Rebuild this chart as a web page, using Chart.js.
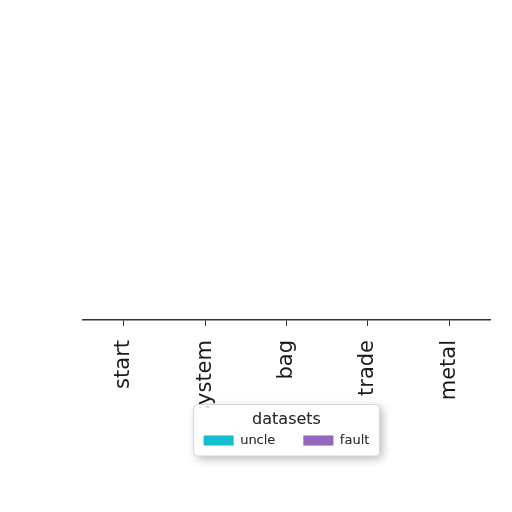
<!DOCTYPE html>
<html lang="en">
  <head>
    <meta charset="utf-8" />
    <title>datasets</title>
    <style>
      html, body { margin: 0; padding: 0; background: #fff; }
      #wrap { width: 512px; height: 512px; }
    </style>
  </head>
  <body>
    <div id="wrap">
      <canvas id="canvas"></canvas>
    </div>

    <script src="https://cdn.jsdelivr.net/npm/chart.js"></script>

    <script>
      const categories = ["start", "system", "bag", "trade", "metal"];
      const uncleValues = [0, 0, 0, 0, 0];
      const faultValues = [0, 0, 0, 0, 0];

      const ctx = document.getElementById("canvas");

      // rounded frame behind the legend, drawn over the tick labels like matplotlib does
      const legendFrame = {
        id: "legendFrame",
        beforeDatasetsDraw(chart) {
          const lg = chart.legend;
          if (!lg || !lg.legendHitBoxes.length) return;
          const boxes = lg.legendHitBoxes;
          const left = Math.min(...boxes.map((b) => b.left)) - 10;
          const right = Math.max(...boxes.map((b) => b.left + b.width)) + 10;
          const top = lg.top - 3;
          const bottom = Math.max(...boxes.map((b) => b.top + b.height)) + 9;
          const c = chart.ctx;

          // shadow only outside the frame
          c.save();
          c.beginPath();
          c.rect(0, 0, chart.width, chart.height);
          c.roundRect(left, top, right - left, bottom - top, 4);
          c.clip("evenodd");
          c.shadowColor = "rgba(0,0,0,0.28)";
          c.shadowBlur = 10;
          c.shadowOffsetX = 3;
          c.shadowOffsetY = 3;
          c.fillStyle = "#fff";
          c.beginPath();
          c.roundRect(left, top, right - left, bottom - top, 4);
          c.fill();
          c.restore();

          c.save();
          c.fillStyle = "rgba(255,255,255,0.8)";
          c.beginPath();
          c.roundRect(left, top, right - left, bottom - top, 4);
          c.fill();
          c.strokeStyle = "#d6d6d6";
          c.lineWidth = 1;
          c.stroke();
          c.restore();
          lg.draw();
        },
      };

      new Chart(ctx, {
        type: "bar",
        data: {
          labels: categories,
          datasets: [
            {
              label: "uncle",
              data: uncleValues,
              backgroundColor: "#17becf",
              borderWidth: 0,
            },
            {
              label: "fault",
              data: faultValues,
              backgroundColor: "#9467bd",
              borderWidth: 0,
            },
          ],
        },
        options: {
          responsive: true,
          maintainAspectRatio: false,
          animation: false,
          layout: {
            padding: { left: 83, right: 22, top: 20, bottom: 55 },
          },
          plugins: {
            tooltip: { enabled: false },
            legend: {
              position: "bottom",
              fullSize: false,
              title: {
                display: true,
                text: "datasets",
                color: "#262626",
                font: { family: "DejaVu Sans", size: 16 },
                padding: { top: 4, bottom: -24.7 },
              },
              labels: {
                color: "#262626",
                font: { family: "DejaVu Sans", size: 13 },
                boxWidth: 30,
                boxHeight: 10,
                padding: 28,
              },
            },
          },
          scales: {
            x: {
              afterFit(scale) {
                scale.height = 87.5;
              },
              grid: {
                offset: false,
                drawOnChartArea: false,
                drawTicks: true,
                tickLength: 6,
                color: "#333",
                z: -1,
              },
              border: { display: true, color: "#333", width: 1.5 },
              ticks: {
                minRotation: 90,
                maxRotation: 90,
                padding: 14,
                color: "#1a1a1a",
                font: { family: "DejaVu Sans", size: 21 },
                z: -1,
              },
            },
            y: {
              display: false,
              min: 0,
              max: 1,
            },
          },
        },
        plugins: [legendFrame],
      });
    </script>
  </body>
</html>
